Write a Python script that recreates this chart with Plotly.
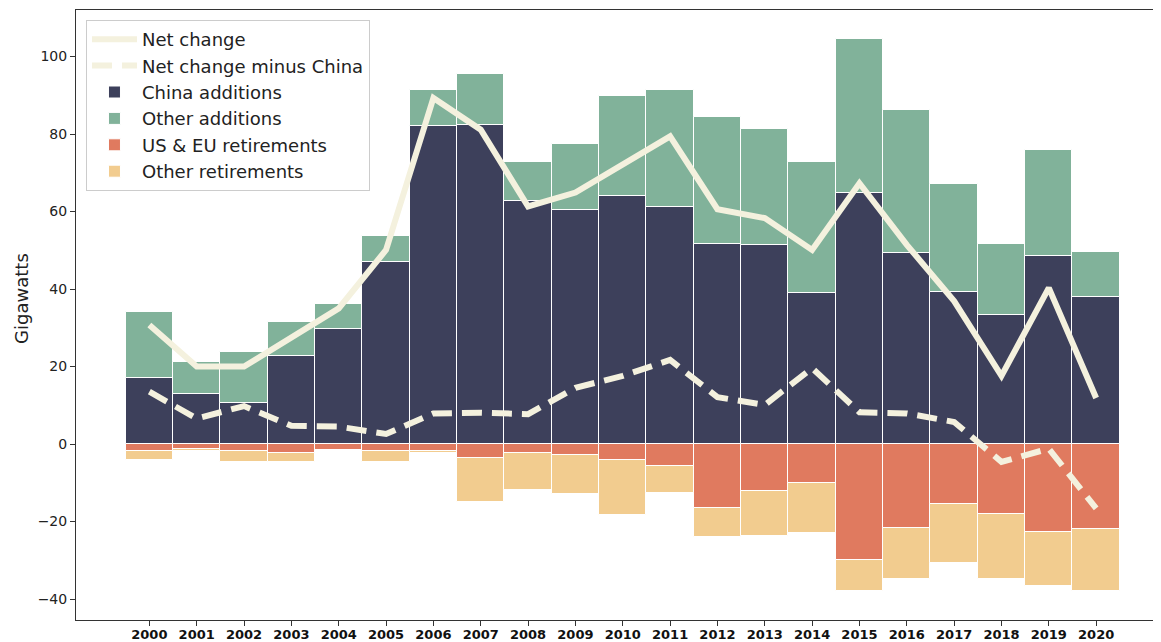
import plotly.graph_objects as go

years = list(range(2000, 2021))
china_add = [17.1, 12.9, 10.5, 22.6, 29.7, 47.0, 82.0, 82.2, 62.6, 60.4, 63.9, 61.1, 51.6, 51.4, 39.0, 64.9, 49.4, 39.2, 33.4, 48.6, 38.0]
other_add = [17.1, 8.4, 13.3, 8.8, 6.4, 6.7, 9.4, 13.3, 10.1, 17.0, 25.8, 30.3, 32.7, 30.0, 33.7, 39.6, 36.7, 28.0, 18.3, 27.4, 11.5]
useu_ret = [-1.8, -1.3, -1.7, -2.2, -1.5, -1.7, -1.8, -3.6, -2.3, -2.8, -4.1, -5.6, -16.4, -12.1, -10.0, -30.0, -21.6, -15.5, -18.1, -22.7, -22.0]
other_ret = [-2.2, -0.4, -2.9, -2.4, 0.0, -2.9, -0.5, -11.4, -9.6, -10.1, -14.1, -7.1, -7.5, -11.5, -12.9, -8.0, -13.3, -15.3, -16.8, -14.0, -16.0]
net_change = [30.7, 20.0, 20.0, 27.5, 35.0, 50.1, 89.3, 81.1, 61.3, 64.9, 72.1, 79.4, 60.6, 58.3, 50.1, 67.3, 51.4, 36.9, 17.6, 40.3, 11.9]
net_minus_china = [13.5, 6.6, 9.8, 4.7, 4.5, 2.6, 7.9, 8.1, 7.7, 14.5, 17.6, 21.7, 12.1, 10.1, 19.6, 8.2, 7.9, 5.7, -4.6, -1.2, -16.6]

C_CHINA = "#3D405B"
C_OTHER_ADD = "#81B29A"
C_USEU = "#E07A5F"
C_OTHER_RET = "#F2CC8F"
C_LINE = "#F4F1DE"

FONT = "DejaVu Sans"

fig = go.Figure()

bar_specs = [
    ("China additions", china_add, C_CHINA, 3),
    ("Other additions", other_add, C_OTHER_ADD, 4),
    ("US & EU retirements", useu_ret, C_USEU, 5),
    ("Other retirements", other_ret, C_OTHER_RET, 6),
]
for name, vals, col, rank in bar_specs:
    fig.add_trace(go.Bar(
        x=years, y=vals, name=name, width=1,
        marker=dict(color=col, line=dict(color="white", width=1)),
        legendrank=rank,
    ))

fig.add_trace(go.Scatter(
    x=years, y=net_change, name="Net change", mode="lines",
    line=dict(color=C_LINE, width=6), legendrank=1,
))
fig.add_trace(go.Scatter(
    x=years, y=net_minus_china, name="Net change minus China", mode="lines",
    line=dict(color=C_LINE, width=6, dash="20px,10px"), legendrank=2,
))

fig.update_layout(
    width=1153, height=634,
    margin=dict(l=68, r=0, t=2, b=22),
    paper_bgcolor="white", plot_bgcolor="white",
    barmode="relative", bargap=0,
    font=dict(family=FONT, color="#222222"),
    showlegend=True,
    legend=dict(
        x=0.0092, y=0.9836, xanchor="left", yanchor="top",
        bgcolor="rgba(255,255,255,0.9)", bordercolor="#CCCCCC", borderwidth=1,
        font=dict(family=FONT, size=18, color="#222222"),
        traceorder="normal", tracegroupgap=0, itemwidth=45,
    ),
    xaxis=dict(
        range=[1998.45, 2021.37], tickmode="array", tickvals=years,
        ticktext=["<b>%d</b>" % y for y in years],
        tickfont=dict(family=FONT, size=13, color="#111111"),
        ticks="outside", ticklen=5, tickcolor="#333333",
        ticklabelstandoff=-3,
        showline=True, linecolor="#333333", linewidth=1, mirror=True,
        showgrid=False, zeroline=False, automargin=False,
    ),
    yaxis=dict(
        range=[-45.4, 112.0], tickmode="array", tickvals=[-40, -20, 0, 20, 40, 60, 80, 100],
        tickfont=dict(family=FONT, size=14, color="#222222"),
        ticks="outside", ticklen=5, tickcolor="#333333",
        showline=True, linecolor="#333333", linewidth=1,
        showgrid=False, zeroline=False, automargin=False,
    ),
    annotations=[dict(
        text="Gigawatts", xref="paper", yref="paper", x=-0.0498, y=0.528,
        xanchor="center", yanchor="middle", textangle=-90, showarrow=False,
        font=dict(family=FONT, size=18, color="#222222"),
    )],
)

fig.write_html("out.html")
